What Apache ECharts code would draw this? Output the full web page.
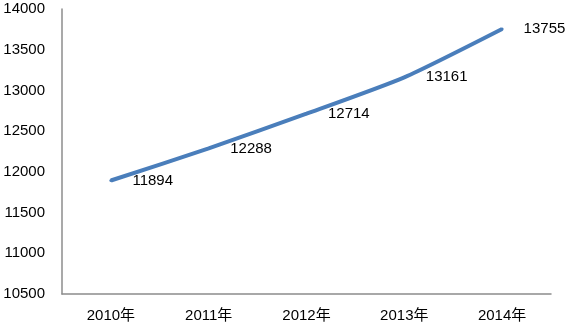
<!DOCTYPE html>
<html>
<head>
<meta charset="utf-8">
<script src="https://cdn.jsdelivr.net/npm/echarts@6/dist/echarts.min.js"></script>
<style>
html,body{margin:0;padding:0;background:#fff;}
#main{width:567px;height:327px;}
</style>
</head>
<body>
<div id="main"></div>
<script>
var categories = ['2010年', '2011年', '2012年', '2013年', '2014年'];
var values = [11894, 12288, 12714, 13161, 13755];
var yMin = 10500, yMax = 14000, yInterval = 500;

var chart = echarts.init(document.getElementById('main'), null, {renderer: 'canvas'});
var font = '"Liberation Sans", "Noto Sans CJK SC", sans-serif';
chart.setOption({
  animation: false,
  backgroundColor: '#ffffff',
  grid: {left: 62, right: 16, top: 9, bottom: 33, containLabel: false},
  xAxis: {
    type: 'category',
    data: categories,
    boundaryGap: true,
    axisLine: {lineStyle: {color: '#8c8c8c', width: 1.5}},
    axisTick: {show: false},
    axisLabel: {color: '#000', fontSize: 15, fontFamily: font, margin: 14}
  },
  yAxis: {
    type: 'value',
    min: yMin, max: yMax, interval: yInterval,
    axisLine: {show: true, lineStyle: {color: '#8c8c8c', width: 1.5}},
    axisTick: {show: false},
    splitLine: {show: false},
    axisLabel: {
      color: '#000', fontSize: 15, fontFamily: font, margin: 17,
      formatter: function (v) { return String(v); }
    }
  },
  series: [{
    type: 'line',
    data: values,
    smooth: 0.2,
    symbol: 'circle',
    symbolSize: 3,
    showSymbol: true,
    itemStyle: {color: '#4a7ebb'},
    lineStyle: {color: '#4a7ebb', width: 4},
    labelLayout: {hideOverlap: false},
    label: {
      show: true,
      position: 'right',
      distance: 20,
      offset: [0, 2],
      color: '#000',
      fontSize: 15,
      fontFamily: font,
      formatter: function (p) { return String(p.value); }
    }
  }]
});
</script>
</body>
</html>
